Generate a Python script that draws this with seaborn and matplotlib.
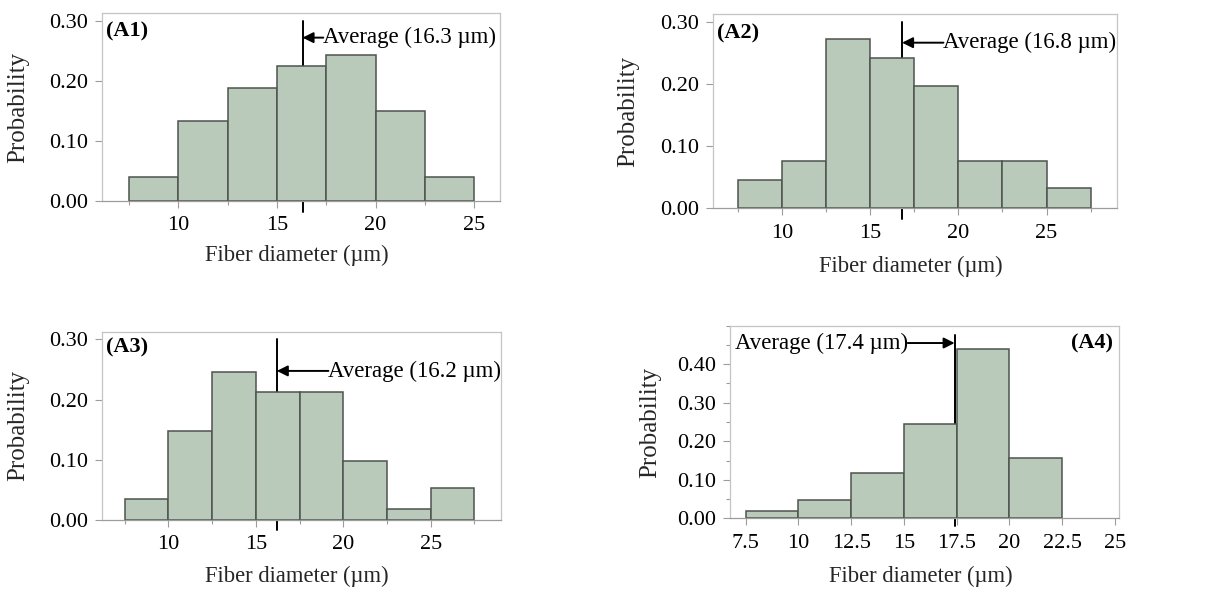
import numpy as np
import pandas as pd
import matplotlib
matplotlib.use("Agg")
import matplotlib.pyplot as plt
import seaborn as sns
from matplotlib.ticker import MultipleLocator, FuncFormatter

# ---------------- data ----------------
panel_labels = ["(A1)", "(A2)", "(A3)", "(A4)"]
averages = [16.3, 16.8, 16.2, 17.4]

edges_a1 = [7.5, 10, 12.5, 15, 17.5, 20, 22.5, 25]
prob_a1 = [0.040, 0.134, 0.188, 0.224, 0.243, 0.150, 0.040]

edges_a2 = [7.5, 10, 12.5, 15, 17.5, 20, 22.5, 25, 27.5]
prob_a2 = [0.046, 0.076, 0.272, 0.242, 0.196, 0.076, 0.076, 0.032]

edges_a3 = [7.5, 10, 12.5, 15, 17.5, 20, 22.5, 25, 27.5]
prob_a3 = [0.035, 0.148, 0.246, 0.212, 0.212, 0.098, 0.019, 0.053]

edges_a4 = [7.5, 10, 12.5, 15, 17.5, 20, 22.5]
prob_a4 = [0.019, 0.048, 0.117, 0.244, 0.439, 0.156]

x_label = "Fiber diameter (\u00b5m)"
y_label = "Probability"

# ---------------- style ----------------
sns.set_style("white")
plt.rcParams["font.family"] = ["Liberation Serif", "DejaVu Serif"]
plt.rcParams["font.size"] = 16

BAR = "#bacaba"
EDGE = "#4e534e"
SPINE_LIGHT = "#c4c4c4"
SPINE_AXIS = "#9c9c9c"

fig = plt.figure(figsize=(12.21, 5.90), dpi=100)

panels = [
    dict(edges=edges_a1, probs=prob_a1, rect=[0.0835, 0.659, 0.326, 0.319],
         xlim=(6.14, 26.3), ylim=(0, 0.313), yticks=[0, 0.1, 0.2, 0.3], yminor=None,
         xmajor=5, xminor=2.5, line_top=0.30, below=-0.018,
         text_xy=(17.35, 0.272), text_ha="left",
         lab_xy=(0.01, 0.9), lab_ha="left", lab_coords=(-0.211, 0.5), xlab_y=-0.287),
    dict(edges=edges_a2, probs=prob_a2, rect=[0.5837, 0.6469, 0.3311, 0.3293],
         xlim=(6.05, 29.0), ylim=(0, 0.312), yticks=[0, 0.1, 0.2, 0.3], yminor=None,
         xmajor=5, xminor=2.5, line_top=0.30, below=-0.017,
         text_xy=(19.15, 0.266), text_ha="left",
         lab_xy=(0.01, 0.9), lab_ha="left", lab_coords=(-0.209, 0.5), xlab_y=-0.30),
    dict(edges=edges_a3, probs=prob_a3, rect=[0.0833, 0.1186, 0.3268, 0.3192],
         xlim=(6.19, 29.0), ylim=(0, 0.3126), yticks=[0, 0.1, 0.2, 0.3], yminor=None,
         xmajor=5, xminor=2.5, line_top=0.30, below=-0.017,
         text_xy=(19.15, 0.2475), text_ha="left",
         lab_xy=(0.01, 0.918), lab_ha="left", lab_coords=(-0.21, 0.5), xlab_y=-0.301),
    dict(edges=edges_a4, probs=prob_a4, rect=[0.5979, 0.1215, 0.3186, 0.3265],
         xlim=(6.76, 25.19), ylim=(0, 0.5), yticks=[0, 0.1, 0.2, 0.3, 0.4], yminor=0.05,
         xmajor=2.5, xminor=None, line_top=0.475, below=-0.021,
         text_xy=(15.18, 0.455), text_ha="right",
         lab_xy=(0.985, 0.91), lab_ha="right", lab_coords=(-0.206, 0.5), xlab_y=-0.303),
]

for i, p in enumerate(panels):
    ax = fig.add_axes(p["rect"])
    edges = list(p["edges"])
    centers = [(a + b) / 2 for a, b in zip(edges[:-1], edges[1:])]
    df = pd.DataFrame({"diameter": centers, "prob": p["probs"]})
    sns.histplot(data=df, x="diameter", weights="prob", bins=edges, stat="count",
                 ax=ax, color=BAR, edgecolor=EDGE, linewidth=1.1, alpha=1.0, zorder=2)

    ax.set_xlim(*p["xlim"])
    ax.set_ylim(*p["ylim"])
    ax.set_yticks(p["yticks"])
    ax.yaxis.set_major_formatter(FuncFormatter(lambda v, pos: f"{v:.2f}"))
    if p["yminor"]:
        ax.yaxis.set_minor_locator(MultipleLocator(p["yminor"]))
    ax.xaxis.set_major_locator(MultipleLocator(p["xmajor"]))
    if p["xminor"]:
        ax.xaxis.set_minor_locator(MultipleLocator(p["xminor"]))
    ax.xaxis.set_major_formatter(FuncFormatter(lambda v, pos: f"{v:g}"))

    for s in ["left", "top", "right"]:
        ax.spines[s].set_color(SPINE_LIGHT)
        ax.spines[s].set_linewidth(0.9)
    ax.spines["bottom"].set_color(SPINE_AXIS)
    ax.spines["bottom"].set_linewidth(0.9)

    ax.tick_params(which="major", direction="out", length=5, width=0.8,
                   color=SPINE_AXIS, labelsize=16, labelcolor="black")
    ax.tick_params(axis="y", which="major", pad=5)
    ax.tick_params(axis="x", which="major", pad=6)
    ax.tick_params(which="minor", direction="out", length=3, width=0.8, color=SPINE_AXIS)
    ax.tick_params(bottom=True, left=True)
    ax.tick_params(which="minor", bottom=True, left=True)

    ax.set_xlabel(x_label, fontsize=16.3)
    ax.set_ylabel(y_label, fontsize=18)
    ax.yaxis.set_label_coords(*p["lab_coords"])
    ax.yaxis.label.set_va("center")
    ax.xaxis.set_label_coords(0.49, p["xlab_y"])
    ax.xaxis.label.set_va("center")

    avg = averages[i]
    ax.plot([avg, avg], [p["below"], p["line_top"]], color="black", lw=1.4,
            clip_on=False, zorder=1.5)
    relx = 0.0 if p["text_ha"] == "left" else 1.0
    ax.annotate(f"Average ({avg} \u00b5m)", xy=(avg, p["text_xy"][1]), xytext=p["text_xy"],
                ha=p["text_ha"], va="center", fontsize=16.5, color="black", zorder=5,
                arrowprops=dict(arrowstyle="-|>", color="black", lw=1.4,
                                mutation_scale=16, shrinkA=0, shrinkB=0,
                                relpos=(relx, 0.5), patchA=None))

    ax.text(p["lab_xy"][0], p["lab_xy"][1], panel_labels[i], transform=ax.transAxes,
            ha=p["lab_ha"], va="center", fontsize=16, fontweight="bold", color="black")

fig.savefig("out.png", dpi=100)
